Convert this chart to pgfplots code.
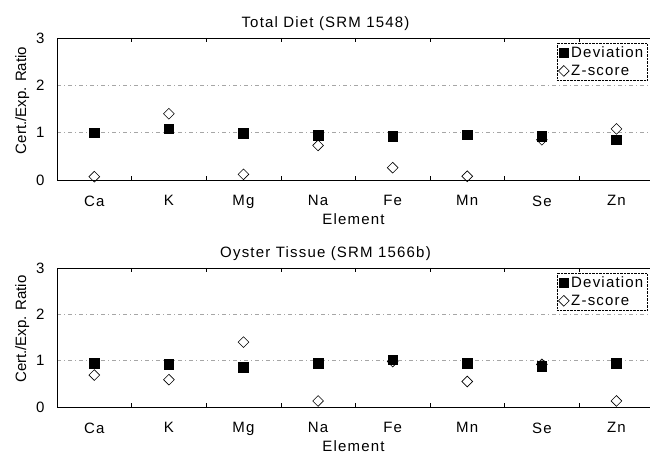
\documentclass[border=0pt]{standalone}
\usepackage{fontspec}
\setmainfont{Liberation Sans}[LetterSpace=8]
\newfontfamily\ylabfamily{Liberation Sans}
\usepackage{pgfplots}
\pgfplotsset{compat=1.18}
\newcommand\chartfont{\fontsize{15}{17}\selectfont}
\newcommand\ylabfont{\ylabfamily\fontsize{15}{17}\selectfont}
\pgfplotsset{
  panel/.style={
    scale only axis, width=593pt, height=142pt,
    xmin=-0.5, xmax=7.45, ymin=0, ymax=3,
    axis line style={draw=none},
    xtick={0,1,2,3,4,5,6,7},
    xticklabels={Ca,K,Mg,Na,Fe,Mn,Se,Zn},
    major x tick style={draw=none},
    minor xtick={0.5,1.5,2.5,3.5,4.5,5.5,6.5},
    minor tick length=4pt,
    minor x tick style={black, line width=0.4pt},
    ytick={0,1,2,3},
    major y tick style={draw=none},
    ymajorgrids=true,
    grid style={gray!70, dash pattern=on 4pt off 3pt on 1pt off 3pt, line width=0.5pt},
    tick label style={font=\chartfont},
    xticklabel style={yshift=-12pt},
    yticklabel style={xshift=-9pt},
    /pgf/number format/assume math mode=true,
    xlabel={Element}, ylabel={Cert./Exp. Ratio},
    label style={font=\chartfont},
    xlabel style={yshift=2pt},
    ylabel style={font=\ylabfont, at={(ticklabel cs:0.56)}, yshift=0pt},
    title style={font=\chartfont, yshift=-2pt, xshift=-28pt},
    legend style={at={(0.995,0.965)}, anchor=north east, draw=black, densely dotted,
      font=\chartfont, row sep=2pt, inner sep=1.5pt,
      legend cell align=left},
    legend image code/.code={\draw[#1, solid] plot coordinates {(0.14cm,0cm)};},
    clip=false,
  },
  dev/.style={only marks, mark=square*, mark size=4.8pt, black},
  zs/.style={only marks, mark=square, mark size=3.8pt, black, line width=0.6pt, mark options={fill=white, rotate=45}},
}
\begin{document}
\begin{tikzpicture}
\useasboundingbox (0,0) rectangle (650pt,455pt);
\begin{axis}[panel, at={(57pt,275pt)}, anchor=south west, title={Total Diet (SRM 1548)}]
\draw[black, line width=0.9pt] (rel axis cs:0,1) -- (rel axis cs:1,1);
\draw[black, line width=0.9pt] (rel axis cs:0,0) -- (rel axis cs:1,0);
\draw[black, line width=0.7pt] (rel axis cs:0,0) -- (rel axis cs:0,1);
\addplot[dev] coordinates {(0,1.00) (1,1.08) (2,0.99) (3,0.95) (4,0.93) (5,0.96) (6,0.92) (7,0.85)};
\addplot[zs] coordinates {(0,0.07) (1,1.40) (2,0.12) (3,0.73) (4,0.26) (5,0.08) (6,0.85) (7,1.08)};
\legend{Deviation, Z-score}
\end{axis}
\begin{axis}[panel, at={(57pt,48pt)}, anchor=south west, height=139pt, title={Oyster Tissue (SRM 1566b)}]
\draw[black, line width=0.9pt] (rel axis cs:0,1) -- (rel axis cs:1,1);
\draw[black, line width=0.9pt] (rel axis cs:0,0) -- (rel axis cs:1,0);
\draw[black, line width=0.7pt] (rel axis cs:0,0) -- (rel axis cs:0,1);
\addplot[dev] coordinates {(0,0.94) (1,0.92) (2,0.86) (3,0.95) (4,1.02) (5,0.94) (6,0.88) (7,0.95)};
\addplot[zs] coordinates {(0,0.69) (1,0.59) (2,1.40) (3,0.13) (4,0.98) (5,0.55) (6,0.92) (7,0.13)};
\legend{Deviation, Z-score}
\end{axis}
\end{tikzpicture}
\end{document}
